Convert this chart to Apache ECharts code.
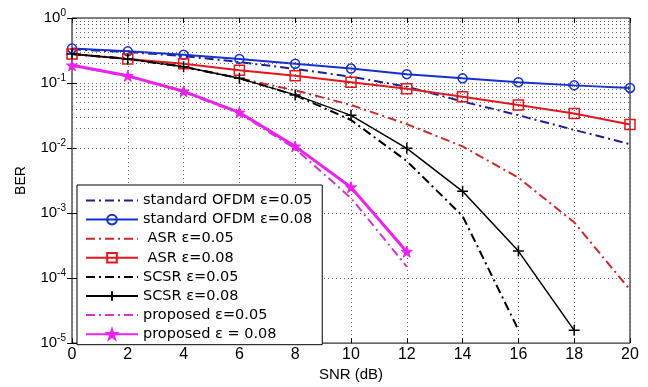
<!DOCTYPE html>
<html>
<head>
<meta charset="utf-8">
<script src="https://cdn.jsdelivr.net/npm/echarts@6/dist/echarts.min.js"></script>
<style>
  html, body { margin: 0; padding: 0; background: #fff; }
  #chart { width: 648px; height: 387px; }
</style>
</head>
<body>
<div id="chart"></div>
<script>
// SNR points (dB)
const snr = [0, 2, 4, 6, 8, 10, 12, 14, 16, 18, 20];

// BER curves, one value per SNR point (shorter arrays stop early)
const ofdm005 = [0.33, 0.30, 0.26, 0.21, 0.165, 0.125, 0.088, 0.052, 0.032, 0.019, 0.0115];
const ofdm008 = [0.34, 0.307, 0.273, 0.235, 0.198, 0.167, 0.137, 0.118, 0.103, 0.092, 0.084];
const asr005 = [0.279, 0.235, 0.178, 0.118, 0.077, 0.046, 0.0233, 0.0106, 0.0035, 0.00072, 0.000066];
const asr008 = [0.279, 0.235, 0.198, 0.157, 0.129, 0.103, 0.0816, 0.0613, 0.046, 0.0341, 0.0231];
const scsr005 = [0.28, 0.235, 0.178, 0.118, 0.065, 0.027, 0.0063, 0.0009, 0.000016];
const scsr008 = [0.279, 0.235, 0.178, 0.118, 0.0657, 0.0318, 0.0099, 0.00216, 0.00026, 0.0000157];
const prop005 = [0.185, 0.127, 0.073, 0.034, 0.0098, 0.0017, 0.00015];
const prop008 = [0.187, 0.129, 0.0746, 0.0353, 0.0106, 0.0025, 0.000255];

// Legend labels
const names = [
  'standard OFDM \u03b5=0.05',
  'standard OFDM \u03b5=0.08',
  ' ASR \u03b5=0.05',
  ' ASR \u03b5=0.08',
  'SCSR \u03b5=0.05',
  'SCSR \u03b5=0.08',
  'proposed \u03b5=0.05',
  'proposed \u03b5 = 0.08'
];

// Minor log grid levels: 2..9 x 10^k
const minorLevels = [];
for (let k = -5; k < 0; k++) {
  for (let m = 2; m <= 9; m++) minorLevels.push(m * Math.pow(10, k));
}

const pairs = arr => arr.map((v, i) => [snr[i], v]);
const dashDot = [9, 4, 2, 4];
const gridDots = { color: '#666', width: 1, type: [1, 3] };
const clear = 'rgba(0,0,0,0)';

const plusPath = 'path://M5,0L5,10M0,5L10,5';
const starPath = 'path://M5,0L6.2,3.6L10,3.6L6.9,5.9L8.1,9.5L5,7.3L1.9,9.5L3.1,5.9L0,3.6L3.8,3.6Z';

function lineSeries(name, data, color, width, type, symbol, symbolSize, itemStyle) {
  return {
    name: name,
    type: 'line',
    data: pairs(data),
    // plain curves keep an invisible marker so the legend shows only the line
    symbol: symbol || 'circle',
    symbolSize: symbolSize || 6,
    showSymbol: !!symbol,
    z: 3,
    lineStyle: { color: color, width: width, type: type },
    itemStyle: itemStyle || { color: clear, borderColor: clear, borderWidth: 0 },
    emphasis: { disabled: true },
    animation: false
  };
}

const chart = echarts.init(document.getElementById('chart'), null, { renderer: 'canvas' });

const option = {
  backgroundColor: '#fff',
  animation: false,
  grid: {
    left: 72, right: 18, top: 18, bottom: 35,
    show: true, borderColor: '#000', borderWidth: 1, backgroundColor: '#fff'
  },
  legend: {
    orient: 'vertical',
    left: 77, top: 185,
    itemWidth: 52, itemHeight: 12, itemGap: 4.1,
    padding: [8, 10, 3, 8],
    backgroundColor: '#fff',
    borderColor: '#000', borderWidth: 1, borderRadius: 0,
    textStyle: { fontFamily: 'DejaVu Sans', fontSize: 14.5, lineHeight: 14, color: '#000' },
    data: names
  },
  xAxis: [{
    type: 'value', min: 0, max: 20, interval: 2,
    name: 'SNR (dB)', nameLocation: 'middle', nameGap: 19,
    nameTextStyle: { fontFamily: 'Liberation Sans', fontSize: 15, color: '#000' },
    axisLine: { show: false },
    axisTick: { inside: true, length: 5, lineStyle: { color: '#000' } },
    axisLabel: { margin: 3, fontFamily: 'Liberation Sans', fontSize: 16, color: '#000' },
    splitLine: { show: true, lineStyle: gridDots }
  }, {
    type: 'value', min: 0, max: 20, interval: 2, position: 'top',
    axisLine: { show: false },
    axisTick: { inside: true, length: 5, lineStyle: { color: '#000' } },
    axisLabel: { show: false },
    splitLine: { show: false }
  }],
  yAxis: [{
    type: 'log', logBase: 10, min: 1e-5, max: 1,
    name: 'BER', nameLocation: 'middle', nameGap: 44,
    nameTextStyle: { fontFamily: 'Liberation Sans', fontSize: 14, color: '#000' },
    axisLine: { show: false },
    axisTick: { inside: true, length: 5, lineStyle: { color: '#000' } },
    axisLabel: {
      margin: 6,
      formatter: function (v) {
        const e = Math.round(Math.log10(v));
        return '{b|10}{s|' + e + '}';
      },
      rich: {
        b: { fontFamily: 'Liberation Sans', fontSize: 15, lineHeight: 20, color: '#000' },
        s: { fontFamily: 'Liberation Sans', fontSize: 10, lineHeight: 10, verticalAlign: 'top', color: '#000' }
      }
    },
    splitLine: { show: true, lineStyle: gridDots }
  }, {
    type: 'log', logBase: 10, min: 1e-5, max: 1, position: 'right',
    axisLine: { show: false },
    axisTick: { inside: true, length: 5, lineStyle: { color: '#000' } },
    axisLabel: { show: false },
    splitLine: { show: false }
  }],
  series: [
    {
      name: 'minor-grid',
      type: 'line',
      data: [],
      z: 1,
      symbol: 'none',
      silent: true,
      markLine: {
        silent: true,
        symbol: ['none', 'none'],
        label: { show: false },
        lineStyle: gridDots,
        animation: false,
        data: minorLevels.map(v => ({ yAxis: v }))
      }
    },
    lineSeries(names[0], ofdm005, '#1d1f8f', 2, dashDot),
    lineSeries(names[1], ofdm008, '#1530d0', 2, 'solid', 'circle', 9,
      { color: clear, borderColor: '#1530d0', borderWidth: 1.5 }),
    lineSeries(names[2], asr005, '#c8282c', 2, dashDot),
    lineSeries(names[3], asr008, '#e3161b', 2, 'solid', 'rect', 10,
      { color: clear, borderColor: '#e3161b', borderWidth: 1.5 }),
    lineSeries(names[4], scsr005, '#000', 2, dashDot),
    lineSeries(names[5], scsr008, '#000', 1.5, 'solid', plusPath, 11,
      { color: clear, borderColor: '#000', borderWidth: 1.5 }),
    lineSeries(names[6], prop005, '#cc38cc', 2, dashDot),
    lineSeries(names[7], prop008, '#ee22ee', 3, 'solid', starPath, 11,
      { color: '#ee22ee', borderColor: '#ee22ee', borderWidth: 1 })
  ]
};

chart.setOption(option);
</script>
</body>
</html>
